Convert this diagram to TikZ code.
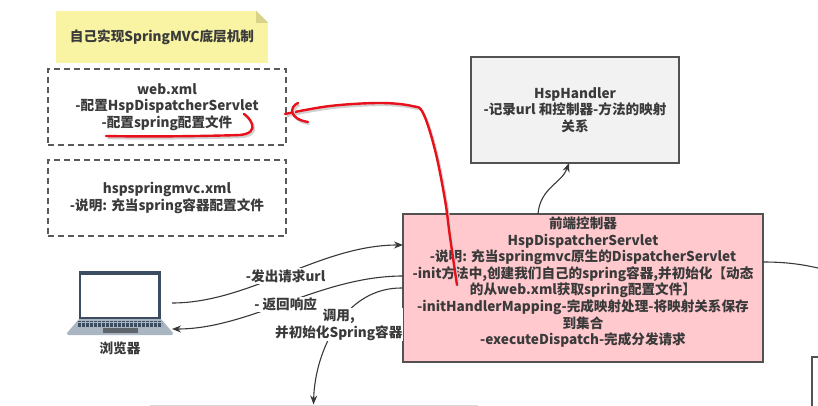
\documentclass[tikz,border=0pt]{standalone}
\usepackage{fontspec}
\usetikzlibrary{arrows.meta}
\setmainfont{Noto Sans CJK SC}
\definecolor{inkgray}{HTML}{3A3A3A}
\definecolor{notefill}{HTML}{F8F4A4}
\definecolor{notefold}{HTML}{D8D387}
\definecolor{pinkfill}{HTML}{FFC9CE}
\definecolor{panelfill}{HTML}{F2F2F2}
\definecolor{laptopdark}{HTML}{3C4D62}
\definecolor{laptopbase}{HTML}{A9B6C1}
\definecolor{redpen}{HTML}{E8101A}
\tikzset{
  txt/.style={text=inkgray, align=center, inner sep=0pt, font=\fontsize{13.6}{16.6}\selectfont\bfseries},
  dashbox/.style={txt, draw=black!65, dash pattern=on 6pt off 4pt, line width=1.1pt, minimum width=238pt, minimum height=76pt},
  solidbox/.style={txt, draw=black!68, line width=1.1pt},
  wire/.style={->, draw=black!78, line width=1.1pt},
  wirelabel/.style={txt, fill=white, inner sep=1pt},
  redstroke/.style={draw=redpen, line width=2.4pt, line cap=round, line join=round,
    preaction={draw=black!18, line width=2.4pt, transform canvas={shift={(1.5pt,-2pt)}}}},
}
\begin{document}
\begin{tikzpicture}[x=1pt, y=-1pt, >={Stealth[length=9pt,width=7pt]}]
  \clip[use as bounding box] (0,0) rectangle (818,406);
  \node[txt, fill=notefill, minimum width=212pt, minimum height=52pt] (note) at (162,37) {自己实现SpringMVC底层机制};
  \fill[white] (note.north east) -- ++(-12,0) -- ++(12,12) -- cycle;
  \fill[notefold] ([xshift=-12pt]note.north east) -- ([yshift=-12pt]note.north east) -- ([xshift=-12pt,yshift=-12pt]note.north east) -- cycle;
  \node[dashbox] (webxml) at (167,107) {web.xml\\-配置HspDispatcherServlet\\-配置spring配置文件};
  \node[dashbox] (springxml) at (167,198) {hspspringmvc.xml\\-说明: 充当spring容器配置文件};
  \node[solidbox, fill=panelfill, minimum width=208pt, minimum height=106pt] (handler) at (575,110) {HspHandler\\-记录url 和控制器-方法的映射\\关系};
  \node[solidbox, fill=pinkfill, minimum width=360pt, minimum height=148pt] (dispatcher) at (583,288) {前端控制器\\HspDispatcherServlet\\-说明: 充当springmvc原生的DispatcherServlet\\-init方法中,创建我们自己的spring容器,并初始化【动态\\的从web.xml获取spring配置文件】\\-initHandlerMapping-完成映射处理-将映射关系保存\\到集合\\-executeDispatch-完成分发请求\\[-2pt]~};
  \node[draw=black!15, line width=1pt, minimum width=327pt, minimum height=50pt] (springbox) at (313.5,430) {};
  \node[draw=black!68, line width=1.1pt, minimum width=96pt, minimum height=90pt] (rightbox) at (860,402) {};
  \node[fill=laptopdark, minimum width=82pt, minimum height=48pt, inner sep=0pt] (screen) at (120,295) {};
  \node[fill=white, minimum width=77pt, minimum height=42pt, inner sep=0pt] (display) at (119.5,296) {};
  \fill[laptopbase] (screen.south west) -- (67,333) -- (68,335) -- (172,335) -- (173,333) -- (screen.south east) -- cycle;
  \foreach \y in {321.5,323.8,326.1} {
    \draw[laptopdark, line width=1.6pt, dash pattern=on 3.2pt off 0.8pt] (78,\y) -- (162,\y);
  }
  \fill[black!45!laptopbase] (103,328) rectangle (138,332.5);
  \node[txt] (browser) at (120,348) {浏览器};
  \coordinate (browserout) at (172,303);
  \coordinate (browserin) at (172,329);
  \coordinate (requestin) at (403,245);
  \coordinate (responseout) at (403,276);
  \coordinate (handlerout) at (538,214);
  \coordinate (handlerin) at (569,163);
  \coordinate (rightout) at (763,262);
  \coordinate (rightend) at (818,268);
  \draw[wire] (dispatcher.west) .. controls (345,287) and (315,350) .. (springbox.north) node[wirelabel, pos=0.48, yshift=-2pt] (calllabel) {调用,\\并初始化Spring容器};
  \draw[wire] (browserout) .. controls (250,303) and (320,245) .. (requestin) node[wirelabel, pos=0.5, yshift=-2pt] (requestlabel) {-发出请求url};
  \draw[wire] (responseout) .. controls (320,276) and (250,329) .. (browserin) node[wirelabel, pos=0.5, yshift=-2pt] (responselabel) {- 返回响应};
  \draw[wire] (handlerout) .. controls (540,188) and (562,183) .. (handlerin);
  \draw[draw=black!78, line width=1.1pt] (rightout) .. controls (785,262) and (800,264) .. (rightend);
  \coordinate (redtip) at (285,114);
  \draw[redstroke] plot[smooth, tension=0.6] coordinates {(457,285) (450,237) (445,200) (435,150) (423,113) (412,106) (380,103) (330,106) (redtip)};
  \draw[redstroke] (298,103) .. controls (289,107) and (289,119) .. (308,122);
  \draw[redstroke] (106,136) .. controls (150,137) and (210,136) .. (240,135) .. controls (250,134) and (254,130) .. (252,124) .. controls (250,119) and (247,116) .. (244,114);
\end{tikzpicture}
\end{document}
